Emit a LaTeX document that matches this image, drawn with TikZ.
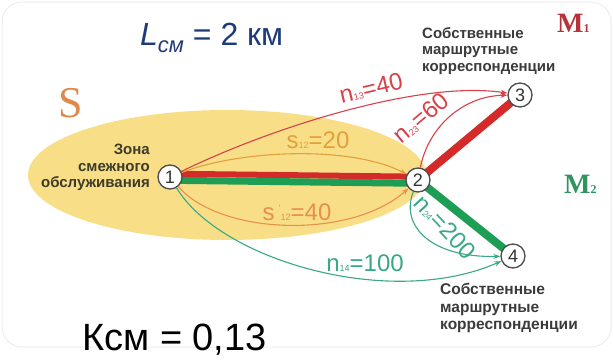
\documentclass[tikz,border=0pt]{standalone}
\usepackage{fontspec}
\setmainfont{Liberation Sans}
\newfontfamily\serifM{Liberation Serif}
\usetikzlibrary{arrows.meta}
\pgfdeclarelayer{back}
\pgfsetlayers{back,main}
\definecolor{zoneyellow}{HTML}{F9DE88}
\definecolor{framegray}{HTML}{EDEDED}
\definecolor{navy}{HTML}{1F3A7A}
\definecolor{thickred}{HTML}{D42A2A}
\definecolor{thickgreen}{HTML}{1E9E55}
\definecolor{nred}{HTML}{D8404A}
\definecolor{sgold}{HTML}{E3A03A}
\definecolor{sorange}{HTML}{E8904A}
\definecolor{nteal}{HTML}{38A886}
\definecolor{txtgray}{HTML}{3A3A3A}
\definecolor{zonetxt}{HTML}{3D3A28}
\definecolor{sorangeS}{HTML}{E0884A}
\definecolor{mred}{HTML}{B8323A}
\definecolor{mgreen}{HTML}{2E9460}
\newcommand\lsub[1]{{\fontsize{9}{9}\selectfont #1}}
\begin{document}
\begin{tikzpicture}[x=1pt,y=-1pt,
  numnode/.style={circle, draw=black!70, line width=1.3pt, fill=white, minimum size=24pt, inner sep=0pt, font=\fontsize{18}{18}\selectfont, text=black!80},
  flow/.style={line width=1.1pt, -{Stealth[length=7pt,width=5pt]}},
  lbl/.style={inner sep=0pt, font=\fontsize{24}{28}\selectfont},
  smalltxt/.style={inner sep=0pt, align=left, font=\bfseries\fontsize{15}{16.5}\selectfont, text=txtgray},
  mlabel/.style={anchor=base west, inner sep=0pt, font=\serifM\bfseries\fontsize{28}{28}\selectfont}
]
\useasboundingbox (0,0) rectangle (613,359);
\draw[framegray, line width=1pt, rounded corners=20pt] (2,2) rectangle (611,347);

% nodes
\node[numnode] (n1) at (170,177) {1};
\node[numnode] (n2) at (418,180) {2};
\node[numnode] (n3) at (520,95) {3};
\node[numnode] (n4) at (513,256) {4};

\begin{pgfonlayer}{back}
\fill[zoneyellow] (227,175) ellipse [x radius=199, y radius=65];
\draw[thickred, line width=6pt] ([yshift=3.3pt]n1.center) -- ([yshift=3.3pt]n2.center);
\draw[thickgreen, line width=7pt] ([yshift=-3.3pt]n1.center) -- ([yshift=-3.3pt]n2.center);
\draw[thickred, line width=8pt] (n2.center) -- (n3.center);
\draw[thickgreen, line width=8pt] (n2.center) -- (n4.center);
\end{pgfonlayer}

% flows
\draw[flow, nred] (n1) .. controls (270,128) and (420,80) .. (n3);
\draw[flow, nred] (n2) .. controls (428,128) and (462,96) .. (n3);
\draw[flow, sgold] (n1) .. controls (240,150) and (350,145) .. (n2);
\draw[flow, sorange] (n1) .. controls (220,235) and (350,240) .. (n2);
\draw[flow, nteal] (n1) .. controls (220,260) and (390,310) .. (n4);
\draw[flow, nteal] (n2) .. controls (400,225) and (430,258) .. (n4);

% labels
\node[lbl, text=nred, rotate=13] (l13) at (371,88) {n\lsub{13}=40};
\node[lbl, text=nred, rotate=40] (l23) at (421,118) {n\lsub{23}=60};
\node[lbl, text=sgold] (l12) at (318,140) {s\lsub{12}=20};
\node[lbl, text=sorange] (l12b) at (297,212) {s\,\raisebox{9pt}{\lsub{'}}\lsub{12}=40};
\node[lbl, text=nteal] (l14) at (365,263) {n\lsub{14}=100};
\node[lbl, text=nteal, rotate=-47] (l24) at (445,227) {n\lsub{24}=200};

% texts
\node[smalltxt, anchor=north west] (t3) at (422,27) {Собственные\\маршрутные\\корреспонденции};
\node[smalltxt, anchor=north west, font=\bfseries\fontsize{15.5}{17.5}\selectfont] (t4) at (440,283) {Собственные\\маршрутные\\корреспонденции};
\node[smalltxt, anchor=north east, align=right, text=zonetxt] (tz) at (150,144) {Зона\\смежного\\обслуживания};

\node[anchor=base west, inner sep=0pt, text=navy, font=\fontsize{32}{36}\selectfont] (lcm) at (140,45) {\textit{L}\raisebox{-7pt}{\fontsize{22}{22}\selectfont\textit{см}} = 2 км};
\node[anchor=base west, inner sep=0pt, font=\fontsize{38}{42}\selectfont] (kcm) at (82,350) {Ксм = 0,13};
\node[anchor=base west, inner sep=0pt, text=sorangeS, font=\serifM\fontsize{44}{44}\selectfont] (S) at (58,117) {S};
\node[mlabel, text=mred] (M1) at (557,32) {M{\fontsize{12}{12}\selectfont 1}};
\node[mlabel, text=mgreen] (M2) at (564,193) {M{\fontsize{12}{12}\selectfont 2}};
\end{tikzpicture}
\end{document}
